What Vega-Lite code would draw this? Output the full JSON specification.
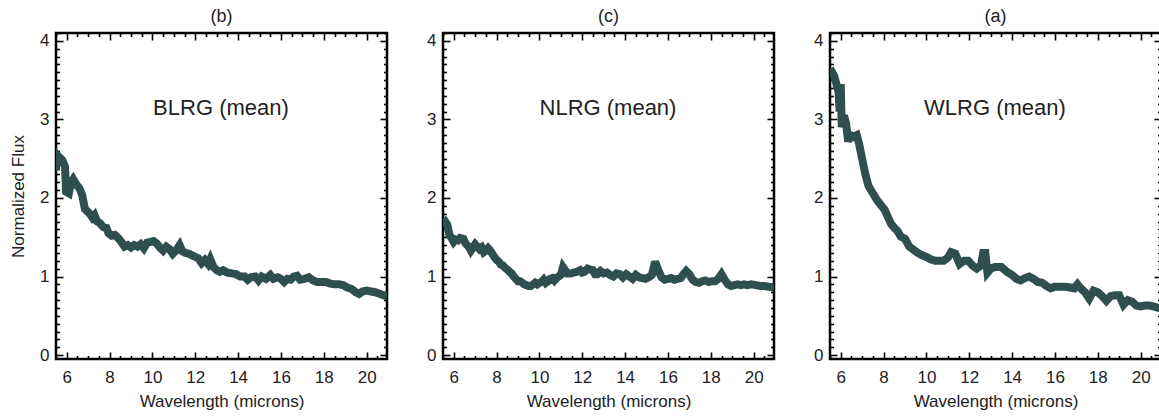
{
  "$schema": "https://vega.github.io/schema/vega-lite/v6.json",
  "padding": {"left": 8, "top": 6, "right": 0, "bottom": 0},
  "background": "white",
  "datasets": {
    "b": [
      {"w":5.5,"f":2.35},{"w":5.55,"f":2.55},{"w":5.65,"f":2.52},{"w":5.8,"f":2.48},{"w":5.92,"f":2.4},{"w":5.97,"f":2.08},{"w":6.1,"f":2.06},{"w":6.2,"f":2.2},{"w":6.3,"f":2.24},{"w":6.45,"f":2.17},{"w":6.6,"f":2.12},{"w":6.72,"f":2.04},{"w":6.85,"f":1.86},{"w":7.0,"f":1.82},{"w":7.1,"f":1.79},{"w":7.2,"f":1.75},{"w":7.3,"f":1.78},{"w":7.42,"f":1.7},{"w":7.55,"f":1.68},{"w":7.7,"f":1.63},{"w":7.85,"f":1.62},{"w":7.95,"f":1.55},{"w":8.1,"f":1.52},{"w":8.25,"f":1.53},{"w":8.4,"f":1.49},{"w":8.55,"f":1.44},{"w":8.7,"f":1.38},{"w":8.85,"f":1.4},{"w":9.0,"f":1.37},{"w":9.15,"f":1.4},{"w":9.3,"f":1.38},{"w":9.45,"f":1.41},{"w":9.6,"f":1.36},{"w":9.75,"f":1.43},{"w":9.9,"f":1.44},{"w":10.05,"f":1.45},{"w":10.2,"f":1.42},{"w":10.35,"f":1.37},{"w":10.5,"f":1.33},{"w":10.65,"f":1.38},{"w":10.8,"f":1.35},{"w":10.95,"f":1.29},{"w":11.1,"f":1.33},{"w":11.27,"f":1.4},{"w":11.4,"f":1.32},{"w":11.55,"f":1.3},{"w":11.7,"f":1.29},{"w":11.85,"f":1.27},{"w":12.0,"f":1.25},{"w":12.15,"f":1.23},{"w":12.3,"f":1.17},{"w":12.45,"f":1.21},{"w":12.6,"f":1.16},{"w":12.7,"f":1.22},{"w":12.85,"f":1.12},{"w":13.0,"f":1.08},{"w":13.15,"f":1.06},{"w":13.3,"f":1.08},{"w":13.5,"f":1.05},{"w":13.7,"f":1.04},{"w":13.9,"f":1.03},{"w":14.1,"f":1.0},{"w":14.3,"f":1.0},{"w":14.45,"f":0.96},{"w":14.6,"f":0.99},{"w":14.8,"f":1.0},{"w":14.95,"f":0.95},{"w":15.1,"f":1.0},{"w":15.3,"f":0.97},{"w":15.5,"f":1.02},{"w":15.65,"f":0.97},{"w":15.85,"f":0.99},{"w":16.0,"f":0.97},{"w":16.15,"f":0.93},{"w":16.3,"f":0.97},{"w":16.45,"f":0.96},{"w":16.6,"f":1.0},{"w":16.75,"f":1.01},{"w":16.9,"f":0.96},{"w":17.1,"f":0.97},{"w":17.3,"f":0.99},{"w":17.5,"f":0.95},{"w":17.7,"f":0.93},{"w":17.9,"f":0.93},{"w":18.1,"f":0.93},{"w":18.3,"f":0.91},{"w":18.5,"f":0.9},{"w":18.7,"f":0.9},{"w":18.9,"f":0.89},{"w":19.1,"f":0.86},{"w":19.3,"f":0.84},{"w":19.5,"f":0.8},{"w":19.65,"f":0.78},{"w":19.8,"f":0.81},{"w":20.0,"f":0.82},{"w":20.2,"f":0.81},{"w":20.4,"f":0.8},{"w":20.6,"f":0.78},{"w":20.8,"f":0.76},{"w":20.95,"f":0.75}
    ],
    "c": [
      {"w":5.5,"f":1.68},{"w":5.6,"f":1.7},{"w":5.7,"f":1.66},{"w":5.8,"f":1.53},{"w":5.9,"f":1.49},{"w":6.0,"f":1.44},{"w":6.1,"f":1.47},{"w":6.2,"f":1.46},{"w":6.3,"f":1.49},{"w":6.45,"f":1.48},{"w":6.55,"f":1.42},{"w":6.7,"f":1.38},{"w":6.8,"f":1.33},{"w":6.9,"f":1.37},{"w":7.0,"f":1.41},{"w":7.1,"f":1.38},{"w":7.2,"f":1.35},{"w":7.3,"f":1.37},{"w":7.4,"f":1.31},{"w":7.5,"f":1.33},{"w":7.6,"f":1.36},{"w":7.7,"f":1.33},{"w":7.8,"f":1.29},{"w":7.9,"f":1.25},{"w":8.0,"f":1.21},{"w":8.1,"f":1.19},{"w":8.2,"f":1.15},{"w":8.3,"f":1.14},{"w":8.4,"f":1.11},{"w":8.5,"f":1.09},{"w":8.6,"f":1.06},{"w":8.7,"f":1.04},{"w":8.8,"f":1.0},{"w":8.9,"f":0.97},{"w":9.0,"f":0.94},{"w":9.1,"f":0.94},{"w":9.2,"f":0.92},{"w":9.3,"f":0.9},{"w":9.4,"f":0.89},{"w":9.5,"f":0.88},{"w":9.6,"f":0.88},{"w":9.7,"f":0.9},{"w":9.8,"f":0.92},{"w":9.9,"f":0.9},{"w":10.0,"f":0.92},{"w":10.1,"f":0.93},{"w":10.2,"f":0.96},{"w":10.3,"f":0.92},{"w":10.4,"f":0.94},{"w":10.5,"f":0.97},{"w":10.6,"f":0.98},{"w":10.7,"f":0.95},{"w":10.8,"f":0.98},{"w":10.9,"f":1.0},{"w":11.0,"f":1.02},{"w":11.1,"f":1.12},{"w":11.2,"f":1.08},{"w":11.3,"f":1.04},{"w":11.45,"f":1.04},{"w":11.6,"f":1.05},{"w":11.75,"f":1.06},{"w":11.9,"f":1.08},{"w":12.0,"f":1.05},{"w":12.1,"f":1.06},{"w":12.25,"f":1.1},{"w":12.35,"f":1.09},{"w":12.5,"f":1.08},{"w":12.6,"f":1.03},{"w":12.7,"f":1.03},{"w":12.85,"f":1.07},{"w":13.0,"f":1.04},{"w":13.15,"f":1.05},{"w":13.3,"f":1.02},{"w":13.45,"f":1.0},{"w":13.6,"f":1.04},{"w":13.75,"f":1.03},{"w":13.9,"f":0.99},{"w":14.05,"f":1.03},{"w":14.2,"f":1.0},{"w":14.35,"f":0.97},{"w":14.5,"f":1.02},{"w":14.65,"f":0.99},{"w":14.8,"f":0.98},{"w":14.95,"f":0.97},{"w":15.1,"f":0.99},{"w":15.25,"f":1.02},{"w":15.4,"f":1.19},{"w":15.55,"f":1.08},{"w":15.7,"f":0.99},{"w":15.85,"f":0.96},{"w":16.0,"f":0.97},{"w":16.15,"f":0.98},{"w":16.3,"f":0.96},{"w":16.45,"f":0.97},{"w":16.6,"f":0.98},{"w":16.75,"f":1.04},{"w":16.85,"f":1.07},{"w":17.0,"f":1.03},{"w":17.15,"f":0.96},{"w":17.3,"f":0.93},{"w":17.45,"f":0.92},{"w":17.6,"f":0.94},{"w":17.75,"f":0.95},{"w":17.9,"f":0.93},{"w":18.05,"f":0.94},{"w":18.2,"f":0.94},{"w":18.35,"f":0.97},{"w":18.5,"f":1.03},{"w":18.65,"f":0.96},{"w":18.8,"f":0.9},{"w":18.95,"f":0.88},{"w":19.1,"f":0.89},{"w":19.25,"f":0.9},{"w":19.4,"f":0.89},{"w":19.55,"f":0.9},{"w":19.7,"f":0.89},{"w":19.9,"f":0.9},{"w":20.1,"f":0.89},{"w":20.3,"f":0.88},{"w":20.5,"f":0.88},{"w":20.7,"f":0.87},{"w":20.95,"f":0.86}
    ],
    "a": [
      {"w":5.5,"f":3.65},{"w":5.6,"f":3.6},{"w":5.7,"f":3.55},{"w":5.8,"f":3.45},{"w":5.9,"f":3.35},{"w":5.95,"f":3.1},{"w":6.0,"f":3.45},{"w":6.05,"f":2.9},{"w":6.15,"f":3.05},{"w":6.25,"f":2.95},{"w":6.35,"f":2.72},{"w":6.45,"f":2.8},{"w":6.6,"f":2.78},{"w":6.75,"f":2.8},{"w":6.85,"f":2.7},{"w":7.0,"f":2.5},{"w":7.15,"f":2.3},{"w":7.3,"f":2.15},{"w":7.5,"f":2.06},{"w":7.7,"f":1.97},{"w":7.9,"f":1.9},{"w":8.05,"f":1.85},{"w":8.2,"f":1.76},{"w":8.35,"f":1.67},{"w":8.5,"f":1.62},{"w":8.65,"f":1.58},{"w":8.8,"f":1.51},{"w":9.0,"f":1.48},{"w":9.2,"f":1.38},{"w":9.4,"f":1.34},{"w":9.6,"f":1.3},{"w":9.8,"f":1.27},{"w":10.0,"f":1.25},{"w":10.2,"f":1.22},{"w":10.4,"f":1.2},{"w":10.6,"f":1.2},{"w":10.8,"f":1.2},{"w":11.0,"f":1.24},{"w":11.15,"f":1.31},{"w":11.35,"f":1.29},{"w":11.55,"f":1.16},{"w":11.75,"f":1.2},{"w":11.95,"f":1.2},{"w":12.15,"f":1.14},{"w":12.35,"f":1.1},{"w":12.55,"f":1.14},{"w":12.65,"f":1.3},{"w":12.75,"f":1.3},{"w":12.85,"f":1.05},{"w":13.0,"f":1.1},{"w":13.2,"f":1.12},{"w":13.5,"f":1.12},{"w":13.75,"f":1.06},{"w":14.0,"f":1.02},{"w":14.2,"f":0.97},{"w":14.4,"f":0.95},{"w":14.6,"f":0.98},{"w":14.8,"f":1.0},{"w":15.0,"f":0.97},{"w":15.2,"f":0.93},{"w":15.4,"f":0.92},{"w":15.6,"f":0.88},{"w":15.8,"f":0.85},{"w":16.0,"f":0.87},{"w":16.2,"f":0.87},{"w":16.5,"f":0.87},{"w":16.7,"f":0.86},{"w":16.9,"f":0.85},{"w":17.05,"f":0.9},{"w":17.2,"f":0.85},{"w":17.4,"f":0.8},{"w":17.6,"f":0.72},{"w":17.8,"f":0.82},{"w":18.0,"f":0.8},{"w":18.2,"f":0.75},{"w":18.4,"f":0.69},{"w":18.6,"f":0.75},{"w":18.8,"f":0.76},{"w":19.0,"f":0.76},{"w":19.2,"f":0.64},{"w":19.4,"f":0.7},{"w":19.6,"f":0.68},{"w":19.8,"f":0.63},{"w":20.0,"f":0.62},{"w":20.2,"f":0.63},{"w":20.4,"f":0.63},{"w":20.6,"f":0.62},{"w":20.95,"f":0.59}
    ]
  },
  "spacing": 35,
  "hconcat": [
    {
      "width": 331, "height": 326,
      "title": {"text": "(b)"},
      "data": {"name": "b"},
      "layer": [
        {"mark": {"type": "line", "color": "#2f4f4f", "strokeWidth": 8, "clip": true, "strokeMiterLimit": 3},
         "encoding": {
           "x": {"field": "w", "type": "quantitative", "scale": {"domain": [5.5, 20.95], "nice": false, "zero": false},
                 "axis": {"orient": "bottom", "values": [6,8,10,12,14,16,18,20], "tickSize": -7, "labelPadding": 17, "title": "Wavelength (microns)", "titlePadding": 8, "labelFlush": false}},
           "y": {"field": "f", "type": "quantitative", "scale": {"domain": [-0.05, 4.1], "nice": false, "zero": false},
                 "axis": {"orient": "left", "values": [0,1,2,3,4], "tickSize": -7, "labelPadding": 14, "title": "Normalized Flux", "titlePadding": 12}}
         }},
        {"mark": {"type": "line", "opacity": 0},
         "encoding": {
           "x": {"field": "w", "type": "quantitative", "axis": {"orient": "top", "values": [6,8,10,12,14,16,18,20], "tickSize": -7, "labels": false, "title": null}},
           "y": {"field": "f", "type": "quantitative", "axis": {"orient": "right", "values": [0,1,2,3,4], "tickSize": -7, "labels": false, "title": null}}
         }},
        {"mark": {"type": "line", "opacity": 0},
         "encoding": {
           "x": {"field": "w", "type": "quantitative", "axis": {"orient": "bottom", "values": [5.5,6.5,7,7.5,8.5,9,9.5,10.5,11,11.5,12.5,13,13.5,14.5,15,15.5,16.5,17,17.5,18.5,19,19.5,20.5], "tickSize": -3.5, "labels": false, "title": null}},
           "y": {"field": "f", "type": "quantitative", "axis": {"orient": "left", "values": [0.1,0.2,0.3,0.4,0.5,0.6,0.7,0.8,0.9,1.1,1.2,1.3,1.4,1.5,1.6,1.7,1.8,1.9,2.1,2.2,2.3,2.4,2.5,2.6,2.7,2.8,2.9,3.1,3.2,3.3,3.4,3.5,3.6,3.7,3.8,3.9,4.1], "tickSize": -3.5, "labels": false, "title": null}}
         }},
        {"mark": {"type": "line", "opacity": 0},
         "encoding": {
           "x": {"field": "w", "type": "quantitative", "axis": {"orient": "top", "values": [5.5,6.5,7,7.5,8.5,9,9.5,10.5,11,11.5,12.5,13,13.5,14.5,15,15.5,16.5,17,17.5,18.5,19,19.5,20.5], "tickSize": -3.5, "labels": false, "title": null}},
           "y": {"field": "f", "type": "quantitative", "axis": {"orient": "right", "values": [0.1,0.2,0.3,0.4,0.5,0.6,0.7,0.8,0.9,1.1,1.2,1.3,1.4,1.5,1.6,1.7,1.8,1.9,2.1,2.2,2.3,2.4,2.5,2.6,2.7,2.8,2.9,3.1,3.2,3.3,3.4,3.5,3.6,3.7,3.8,3.9,4.1], "tickSize": -3.5, "labels": false, "title": null}}
         }},
        {"data": {"values": [{"label": "BLRG (mean)"}]},
         "mark": {"type": "text", "fontSize": 22, "font": "Liberation Sans", "color": "#222"},
         "encoding": {
           "x": {"datum": 13.2, "type": "quantitative", "axis": null},
           "y": {"datum": 3.15, "type": "quantitative", "axis": null},
           "text": {"field": "label"}
         }}
      ],
      "resolve": {"axis": {"x": "independent", "y": "independent"}}
    },
    {
      "width": 331, "height": 326,
      "title": {"text": "(c)"},
      "data": {"name": "c"},
      "layer": [
        {"mark": {"type": "line", "color": "#2f4f4f", "strokeWidth": 8, "clip": true, "strokeMiterLimit": 3},
         "encoding": {
           "x": {"field": "w", "type": "quantitative", "scale": {"domain": [5.5, 20.95], "nice": false, "zero": false},
                 "axis": {"orient": "bottom", "values": [6,8,10,12,14,16,18,20], "tickSize": -7, "labelPadding": 17, "title": "Wavelength (microns)", "titlePadding": 8, "labelFlush": false}},
           "y": {"field": "f", "type": "quantitative", "scale": {"domain": [-0.05, 4.1], "nice": false, "zero": false},
                 "axis": {"orient": "left", "values": [0,1,2,3,4], "tickSize": -7, "labelPadding": 14, "title": null}}
         }},
        {"mark": {"type": "line", "opacity": 0},
         "encoding": {
           "x": {"field": "w", "type": "quantitative", "axis": {"orient": "top", "values": [6,8,10,12,14,16,18,20], "tickSize": -7, "labels": false, "title": null}},
           "y": {"field": "f", "type": "quantitative", "axis": {"orient": "right", "values": [0,1,2,3,4], "tickSize": -7, "labels": false, "title": null}}
         }},
        {"mark": {"type": "line", "opacity": 0},
         "encoding": {
           "x": {"field": "w", "type": "quantitative", "axis": {"orient": "bottom", "values": [5.5,6.5,7,7.5,8.5,9,9.5,10.5,11,11.5,12.5,13,13.5,14.5,15,15.5,16.5,17,17.5,18.5,19,19.5,20.5], "tickSize": -3.5, "labels": false, "title": null}},
           "y": {"field": "f", "type": "quantitative", "axis": {"orient": "left", "values": [0.1,0.2,0.3,0.4,0.5,0.6,0.7,0.8,0.9,1.1,1.2,1.3,1.4,1.5,1.6,1.7,1.8,1.9,2.1,2.2,2.3,2.4,2.5,2.6,2.7,2.8,2.9,3.1,3.2,3.3,3.4,3.5,3.6,3.7,3.8,3.9,4.1], "tickSize": -3.5, "labels": false, "title": null}}
         }},
        {"mark": {"type": "line", "opacity": 0},
         "encoding": {
           "x": {"field": "w", "type": "quantitative", "axis": {"orient": "top", "values": [5.5,6.5,7,7.5,8.5,9,9.5,10.5,11,11.5,12.5,13,13.5,14.5,15,15.5,16.5,17,17.5,18.5,19,19.5,20.5], "tickSize": -3.5, "labels": false, "title": null}},
           "y": {"field": "f", "type": "quantitative", "axis": {"orient": "right", "values": [0.1,0.2,0.3,0.4,0.5,0.6,0.7,0.8,0.9,1.1,1.2,1.3,1.4,1.5,1.6,1.7,1.8,1.9,2.1,2.2,2.3,2.4,2.5,2.6,2.7,2.8,2.9,3.1,3.2,3.3,3.4,3.5,3.6,3.7,3.8,3.9,4.1], "tickSize": -3.5, "labels": false, "title": null}}
         }},
        {"data": {"values": [{"label": "NLRG (mean)"}]},
         "mark": {"type": "text", "fontSize": 22, "font": "Liberation Sans", "color": "#222"},
         "encoding": {
           "x": {"datum": 13.2, "type": "quantitative", "axis": null},
           "y": {"datum": 3.15, "type": "quantitative", "axis": null},
           "text": {"field": "label"}
         }}
      ],
      "resolve": {"axis": {"x": "independent", "y": "independent"}}
    },
    {
      "width": 331, "height": 326,
      "title": {"text": "(a)"},
      "data": {"name": "a"},
      "layer": [
        {"mark": {"type": "line", "color": "#2f4f4f", "strokeWidth": 8, "clip": true, "strokeMiterLimit": 3},
         "encoding": {
           "x": {"field": "w", "type": "quantitative", "scale": {"domain": [5.5, 20.95], "nice": false, "zero": false},
                 "axis": {"orient": "bottom", "values": [6,8,10,12,14,16,18,20], "tickSize": -7, "labelPadding": 17, "title": "Wavelength (microns)", "titlePadding": 8, "labelFlush": false}},
           "y": {"field": "f", "type": "quantitative", "scale": {"domain": [-0.05, 4.1], "nice": false, "zero": false},
                 "axis": {"orient": "left", "values": [0,1,2,3,4], "tickSize": -7, "labelPadding": 14, "title": null}}
         }},
        {"mark": {"type": "line", "opacity": 0},
         "encoding": {
           "x": {"field": "w", "type": "quantitative", "axis": {"orient": "top", "values": [6,8,10,12,14,16,18,20], "tickSize": -7, "labels": false, "title": null}},
           "y": {"field": "f", "type": "quantitative", "axis": {"orient": "right", "values": [0,1,2,3,4], "tickSize": -7, "labels": false, "title": null}}
         }},
        {"mark": {"type": "line", "opacity": 0},
         "encoding": {
           "x": {"field": "w", "type": "quantitative", "axis": {"orient": "bottom", "values": [5.5,6.5,7,7.5,8.5,9,9.5,10.5,11,11.5,12.5,13,13.5,14.5,15,15.5,16.5,17,17.5,18.5,19,19.5,20.5], "tickSize": -3.5, "labels": false, "title": null}},
           "y": {"field": "f", "type": "quantitative", "axis": {"orient": "left", "values": [0.1,0.2,0.3,0.4,0.5,0.6,0.7,0.8,0.9,1.1,1.2,1.3,1.4,1.5,1.6,1.7,1.8,1.9,2.1,2.2,2.3,2.4,2.5,2.6,2.7,2.8,2.9,3.1,3.2,3.3,3.4,3.5,3.6,3.7,3.8,3.9,4.1], "tickSize": -3.5, "labels": false, "title": null}}
         }},
        {"mark": {"type": "line", "opacity": 0},
         "encoding": {
           "x": {"field": "w", "type": "quantitative", "axis": {"orient": "top", "values": [5.5,6.5,7,7.5,8.5,9,9.5,10.5,11,11.5,12.5,13,13.5,14.5,15,15.5,16.5,17,17.5,18.5,19,19.5,20.5], "tickSize": -3.5, "labels": false, "title": null}},
           "y": {"field": "f", "type": "quantitative", "axis": {"orient": "right", "values": [0.1,0.2,0.3,0.4,0.5,0.6,0.7,0.8,0.9,1.1,1.2,1.3,1.4,1.5,1.6,1.7,1.8,1.9,2.1,2.2,2.3,2.4,2.5,2.6,2.7,2.8,2.9,3.1,3.2,3.3,3.4,3.5,3.6,3.7,3.8,3.9,4.1], "tickSize": -3.5, "labels": false, "title": null}}
         }},
        {"data": {"values": [{"label": "WLRG (mean)"}]},
         "mark": {"type": "text", "fontSize": 22, "font": "Liberation Sans", "color": "#222"},
         "encoding": {
           "x": {"datum": 13.2, "type": "quantitative", "axis": null},
           "y": {"datum": 3.15, "type": "quantitative", "axis": null},
           "text": {"field": "label"}
         }}
      ],
      "resolve": {"axis": {"x": "independent", "y": "independent"}}
    }
  ],
  "config": {
    "view": {"stroke": "black", "strokeWidth": 2.5},
    "axis": {"grid": false, "domain": false, "tickColor": "black", "tickWidth": 1.6,
             "labelFont": "Liberation Sans", "labelFontSize": 17, "labelColor": "#222",
             "titleFont": "Liberation Sans", "titleFontSize": 17, "titleFontWeight": "normal", "titleColor": "#222"},
    "title": {"font": "Liberation Sans", "fontSize": 18, "fontWeight": "normal", "color": "#222", "offset": 6}
  }
}
